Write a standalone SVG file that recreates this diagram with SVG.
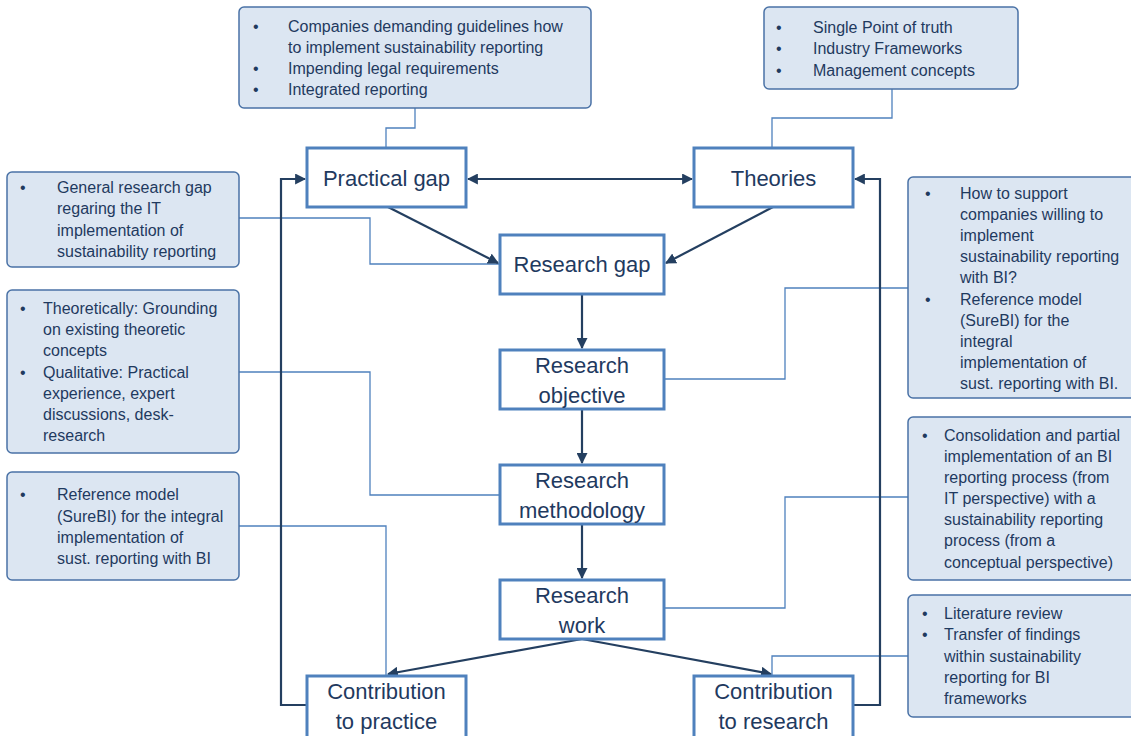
<svg xmlns="http://www.w3.org/2000/svg" width="1131" height="736" viewBox="0 0 1131 736">
  <defs>
    <marker id="arrow" viewBox="0 0 10 10" refX="9" refY="5" markerWidth="5" markerHeight="5" orient="auto-start-reverse" markerUnits="strokeWidth">
      <path d="M0,0 L10,5 L0,10 z" fill="#243F60"/>
    </marker>
    <style>
      .node rect { fill: #ffffff; stroke: #4F81BD; stroke-width: 3; }
      .node text { font-family: "Liberation Sans", Arial, sans-serif; font-size: 22px; fill: #1F3A5F; text-anchor: middle; }
      .note rect { fill: #DCE6F2; stroke: #4A72A6; stroke-width: 1.5; }
      .note text { font-family: "Liberation Sans", Arial, sans-serif; font-size: 16px; fill: #1F3A5F; }
      .flow { fill: none; stroke: #243F60; stroke-width: 2.2; }
      .link { fill: none; stroke: #4F81BD; stroke-width: 1.3; }
    </style>
  </defs>
  <rect width="1131" height="736" fill="#ffffff"/>

  <!-- connectors -->
  <g id="connectors">
    <!-- thin links from the annotation boxes -->
    <polyline class="link" points="415,108 415,128 386,128 386,148"/>
    <polyline class="link" points="892,89 892,118 772,118 772,148"/>
    <polyline class="link" points="239,218 370,218 370,264 500,264"/>
    <polyline class="link" points="239,372 370,372 370,495 500,495"/>
    <polyline class="link" points="239,526 386,526 386,675"/>
    <polyline class="link" points="908,288 785,288 785,379 664,379"/>
    <polyline class="link" points="908,497 785,497 785,608 664,608"/>
    <polyline class="link" points="908,656 772,656 772,675"/>

    <!-- main flow -->
    <line class="flow" x1="468" y1="179" x2="692" y2="179" marker-start="url(#arrow)" marker-end="url(#arrow)"/>
    <line class="flow" x1="388" y1="207" x2="498" y2="263" marker-end="url(#arrow)"/>
    <line class="flow" x1="773" y1="207" x2="666" y2="263" marker-end="url(#arrow)"/>
    <line class="flow" x1="582" y1="294" x2="582" y2="348" marker-end="url(#arrow)"/>
    <line class="flow" x1="582" y1="409" x2="582" y2="463" marker-end="url(#arrow)"/>
    <line class="flow" x1="582" y1="524" x2="582" y2="578" marker-end="url(#arrow)"/>
    <line class="flow" x1="582" y1="639" x2="388" y2="674" marker-end="url(#arrow)"/>
    <line class="flow" x1="582" y1="639" x2="771" y2="674" marker-end="url(#arrow)"/>
    <!-- feedback loops -->
    <polyline class="flow" points="307,705 281,705 281,179 305,179" marker-end="url(#arrow)"/>
    <polyline class="flow" points="853,705 880,705 880,179 855,179" marker-end="url(#arrow)"/>
  </g>

  <!-- main nodes -->
  <g id="practical-gap" class="node">
    <rect x="307" y="148" width="159" height="59"/>
    <text x="386.5" y="186">Practical gap</text>
  </g>
  <g id="theories" class="node">
    <rect x="694" y="148" width="159" height="59"/>
    <text x="773.5" y="186">Theories</text>
  </g>
  <g id="research-gap" class="node">
    <rect x="500" y="235" width="164" height="59"/>
    <text x="582" y="272">Research gap</text>
  </g>
  <g id="research-objective" class="node">
    <rect x="500" y="350" width="164" height="59"/>
    <text x="582" y="373">Research</text>
    <text x="582" y="403">objective</text>
  </g>
  <g id="research-methodology" class="node">
    <rect x="500" y="465" width="164" height="59"/>
    <text x="582" y="488">Research</text>
    <text x="582" y="518">methodology</text>
  </g>
  <g id="research-work" class="node">
    <rect x="500" y="580" width="164" height="59"/>
    <text x="582" y="603">Research</text>
    <text x="582" y="633">work</text>
  </g>
  <g id="contribution-practice" class="node">
    <rect x="307" y="676" width="159" height="70"/>
    <text x="386.5" y="699">Contribution</text>
    <text x="386.5" y="729">to practice</text>
  </g>
  <g id="contribution-research" class="node">
    <rect x="694" y="676" width="159" height="70"/>
    <text x="773.5" y="699">Contribution</text>
    <text x="773.5" y="729">to research</text>
  </g>

  <!-- annotation boxes -->
  <g id="note-practical" class="note">
    <rect x="239" y="7" width="352" height="101" rx="5"/>
    <text x="253" y="32">•</text><text x="288" y="32">Companies demanding guidelines how</text>
    <text x="288" y="53">to implement sustainability reporting</text>
    <text x="253" y="74">•</text><text x="288" y="74">Impending legal requirements</text>
    <text x="253" y="95">•</text><text x="288" y="95">Integrated reporting</text>
  </g>
  <g id="note-theories" class="note">
    <rect x="764" y="7" width="254" height="82" rx="5"/>
    <text x="776" y="33">•</text><text x="813" y="33">Single Point of truth</text>
    <text x="776" y="54">•</text><text x="813" y="54">Industry Frameworks</text>
    <text x="776" y="76">•</text><text x="813" y="76">Management concepts</text>
  </g>
  <g id="note-gap" class="note">
    <rect x="7" y="172" width="232" height="95" rx="5"/>
    <text x="20" y="193">•</text><text x="57" y="193">General research gap</text>
    <text x="57" y="214">regaring the IT</text>
    <text x="57" y="236">implementation of</text>
    <text x="57" y="257">sustainability reporting</text>
  </g>
  <g id="note-methodology" class="note">
    <rect x="7" y="290" width="232" height="163" rx="5"/>
    <text x="20" y="314">•</text><text x="43" y="314">Theoretically: Grounding</text>
    <text x="43" y="335">on existing theoretic</text>
    <text x="43" y="356">concepts</text>
    <text x="20" y="378">•</text><text x="43" y="378">Qualitative: Practical</text>
    <text x="43" y="399">experience, expert</text>
    <text x="43" y="420">discussions, desk-</text>
    <text x="43" y="441">research</text>
  </g>
  <g id="note-practice" class="note">
    <rect x="7" y="472" width="232" height="108" rx="5"/>
    <text x="20" y="500">•</text><text x="57" y="500">Reference model</text>
    <text x="57" y="522">(SureBI) for the integral</text>
    <text x="57" y="543">implementation of</text>
    <text x="57" y="564">sust. reporting with BI</text>
  </g>
  <g id="note-objective" class="note">
    <rect x="908" y="177" width="232" height="221" rx="5"/>
    <text x="925" y="199">•</text><text x="960" y="199">How to support</text>
    <text x="960" y="220">companies willing to</text>
    <text x="960" y="241">implement</text>
    <text x="960" y="262">sustainability reporting</text>
    <text x="960" y="283">with BI?</text>
    <text x="925" y="305">•</text><text x="960" y="305">Reference model</text>
    <text x="960" y="326">(SureBI) for the</text>
    <text x="960" y="347">integral</text>
    <text x="960" y="368">implementation of</text>
    <text x="960" y="389">sust. reporting with BI.</text>
  </g>
  <g id="note-work" class="note">
    <rect x="908" y="417" width="232" height="163" rx="5"/>
    <text x="922" y="441">•</text><text x="944" y="441">Consolidation and partial</text>
    <text x="944" y="462">implementation of an BI</text>
    <text x="944" y="483">reporting process (from</text>
    <text x="944" y="504">IT perspective) with a</text>
    <text x="944" y="525">sustainability reporting</text>
    <text x="944" y="546">process (from a</text>
    <text x="944" y="568">conceptual perspective)</text>
  </g>
  <g id="note-research" class="note">
    <rect x="908" y="595" width="232" height="122" rx="5"/>
    <text x="922" y="619">•</text><text x="944" y="619">Literature review</text>
    <text x="922" y="640">•</text><text x="944" y="640">Transfer of findings</text>
    <text x="944" y="662">within sustainability</text>
    <text x="944" y="683">reporting for BI</text>
    <text x="944" y="704">frameworks</text>
  </g>
</svg>
